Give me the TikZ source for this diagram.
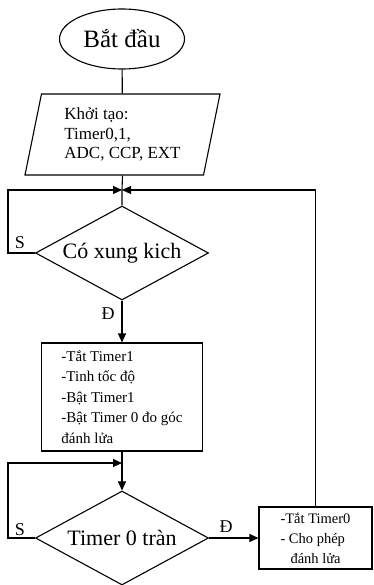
\documentclass[tikz,border=0pt]{standalone}
\usepackage{fontspec}
\setmainfont{Liberation Serif}
\usetikzlibrary{shapes.geometric,arrows.meta}
\begin{document}
\begin{tikzpicture}[x=1pt,y=-1pt,line width=1.1pt,
    flow/.style={-{Triangle[length=9pt,width=8pt]}},
    decision/.style={draw, diamond, aspect=1.84, minimum width=173pt, minimum height=94pt, inner sep=0pt, font=\fontsize{22}{24}\selectfont},
    procbox/.style={draw, rectangle, align=left, inner sep=0pt},
    branch/.style={font=\fontsize{18}{20}\selectfont}]
    \useasboundingbox (0,0) rectangle (373,585);

    % Start and init
    \node[draw, ellipse, minimum width=125pt, minimum height=60pt, inner sep=0pt, font=\fontsize{25}{27}\selectfont] (start) at (122,39) {Bắt đầu};
    \node[draw, trapezium, trapezium left angle=72.85, trapezium right angle=107.15, trapezium stretches body, minimum width=195pt, minimum height=81pt, inner sep=0pt, align=left, font=\fontsize{17}{19.5}\selectfont] (init) at (122.5,134.5) {Khởi tạo:\\Timer0,1,\\ADC, CCP, EXT};

    % Pulse check
    \node[decision] (pulse) at (122,253) {Có xung kich};
    \node[procbox, minimum width=161pt, minimum height=108pt, font=\fontsize{15}{20.5}\selectfont] (calc) at (122,397) {-Tắt Timer1\\-Tinh tốc độ\\-Bật Timer1\\-Bật Timer 0 đo góc\\đánh lửa};

    % Timer 0 overflow
    \node[decision] (ovf) at (122,538) {Timer 0 tràn};
    \node[procbox, minimum width=113pt, minimum height=62pt, font=\fontsize{14.5}{20}\selectfont] (fire) at (315.5,538) {-Tắt Timer0\\- Cho phép\\\hspace*{10pt}đánh lửa};

    % Branch labels
    \node[branch] (s1) at (20,243) {S};
    \node[branch] (d1) at (108,314) {Đ};
    \node[branch] (s2) at (20,530) {S};
    \node[branch] (d2) at (226,527) {Đ};

    % Connectors
    \coordinate (join1) at (122,190);
    \coordinate (join2) at (122,463);
    \draw (start) -- (init);
    \draw (init.south) -- (join1) -- (pulse.north);
    \draw[flow] (pulse.west) -- ++(-27,0) |- (join1);
    \draw[flow] (fire.north) |- (join1);
    \draw[flow] (pulse.south) -- (calc.north);
    \draw (calc.south) -- (join2);
    \draw[flow] (join2) -- (ovf.north);
    \draw[flow] (ovf.west) -- ++(-27,0) |- (join2);
    \draw[flow] (ovf.east) -- (fire.west);
\end{tikzpicture}
\end{document}
